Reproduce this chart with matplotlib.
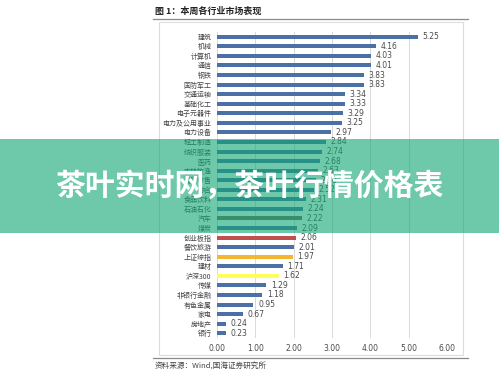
import matplotlib.pyplot as plt
from matplotlib.patches import Rectangle
from matplotlib.lines import Line2D

plt.rcParams['font.family'] = ['Noto Sans CJK SC', 'DejaVu Sans']

industries = ['建筑', '机械', '计算机', '通信', '钢铁', '国防军工', '交通运输', '基础化工',
              '电子元器件', '电力及公用事业', '电力设备', '轻工制造', '纺织服装', '医药',
              '农林牧渔', '商贸零售', '综合', '食品饮料', '石油石化', '汽车', '煤炭',
              '创业板指', '餐饮旅游', '上证综指', '建材', '沪深300', '传媒', '非银行金融',
              '有色金属', '家电', '房地产', '银行']
returns = [5.25, 4.16, 4.03, 4.01, 3.83, 3.83, 3.34, 3.33, 3.29, 3.25, 2.97, 2.84, 2.74,
           2.68, 2.63, 2.58, 2.52, 2.31, 2.24, 2.22, 2.09, 2.06, 2.01, 1.97, 1.71, 1.62,
           1.29, 1.18, 0.95, 0.67, 0.24, 0.23]
special = {'汽车': '#6e6e62', '创业板指': '#c0504d', '上证综指': '#f2b631', '沪深300': '#ffff5a'}
xticks = [0, 1, 2, 3, 4, 5, 6]

W, H = 499, 379
fig = plt.figure(figsize=(W / 100, H / 100), dpi=100)

# frame around the chart
fig.add_artist(Rectangle((159 / W, 1 - 355 / H), (463 - 159) / W, (355 - 22) / H,
                         transform=fig.transFigure, fill=False, edgecolor='#dcdcdc', lw=0.8))
# title and source lines
fig.add_artist(Line2D([153 / W, 468 / W], [1 - 19 / H, 1 - 19 / H], color='#8a8a8a', lw=0.9))
fig.add_artist(Line2D([153 / W, 468 / W], [1 - 358 / H, 1 - 358 / H], color='#8a8a8a', lw=0.9))
fig.text(155 / W, 1 - 11 / H, '图 1：本周各行业市场表现', fontsize=6.5, fontweight='bold',
         color='#222222', va='center', ha='left')
fig.text(155 / W, 1 - 366 / H, '资料来源：Wind,国海证券研究所', fontsize=5.5,
         color='#444444', va='center', ha='left')

ax = fig.add_axes([217 / W, 1 - 338 / H, 230 / W, (338 - 32) / H])
y = list(range(len(industries)))
colors = [special.get(n, '#4a70a6') for n in industries]
ax.barh(y, returns, height=0.42, color=colors, zorder=3)
for yi, v in zip(y, returns):
    ax.text(v + 0.12, yi, f'{v:.2f}', va='center', ha='left', fontsize=5.5,
            color='#4a4a4a', family=['DejaVu Sans'])
ax.set_ylim(len(industries) - 0.5, -0.5)
ax.set_xlim(0, 6)
ax.set_yticks(y)
ax.set_yticklabels(industries, fontsize=5, color='#444444')
ax.set_xticks(xticks)
ax.set_xticklabels([f'{t:.2f}' for t in xticks], fontsize=5.5, color='#4a4a4a',
                   family=['DejaVu Sans'])
ax.tick_params(length=0, pad=4)
ax.grid(axis='x', color='#d9d9d9', lw=0.7, zorder=0)
for s in ax.spines.values():
    s.set_visible(False)

# green banner overlay
fig.add_artist(Rectangle((0, 1 - 233 / H), 1, (233 - 139) / H, transform=fig.transFigure,
                         facecolor=(18 / 255, 165 / 255, 116 / 255), alpha=0.61,
                         edgecolor='none', zorder=10))
fig.text(0.5, 1 - 186 / H, '茶叶实时网，茶叶行情价格表', fontsize=21.5, fontweight='bold',
         color='white', ha='center', va='center', zorder=11)

fig.savefig('out.png', dpi=100)
